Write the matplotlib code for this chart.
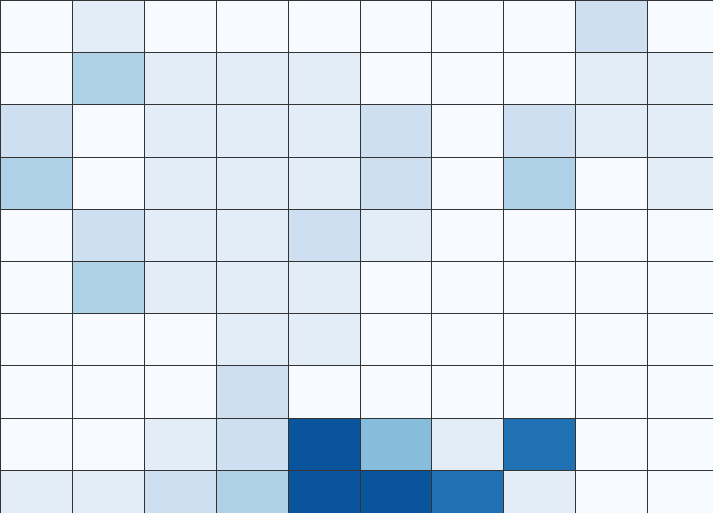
import numpy as np
import matplotlib
matplotlib.use('Agg')
import matplotlib.pyplot as plt

# counts per cell, top row first
row0 = [0, 1, 0, 0, 0, 0, 0, 0, 2, 0]
row1 = [0, 3, 1, 1, 1, 0, 0, 0, 1, 1]
row2 = [2, 0, 1, 1, 1, 2, 0, 2, 1, 1]
row3 = [3, 0, 1, 1, 1, 2, 0, 3, 0, 1]
row4 = [0, 2, 1, 1, 2, 1, 0, 0, 0, 0]
row5 = [0, 3, 1, 1, 1, 0, 0, 0, 0, 0]
row6 = [0, 0, 0, 1, 1, 0, 0, 0, 0, 0]
row7 = [0, 0, 0, 2, 0, 0, 0, 0, 0, 0]
row8 = [0, 0, 1, 2, 8, 4, 1, 7, 0, 0]
row9 = [1, 1, 2, 3, 8, 8, 7, 1, 0, 0]

data = np.array([row0, row1, row2, row3, row4, row5, row6, row7, row8, row9])

fig = plt.figure(figsize=(7.13, 5.13), dpi=100)
ax = fig.add_axes([0, 0, 1, 1])
ax.pcolormesh(data, cmap='Blues', vmin=0, vmax=9.3,
              edgecolors='#333333', linewidth=0.6)
# the grid runs a little past the right and bottom edges
ax.set_xlim(0, 713 / 71.9)
ax.set_ylim(513 / 52.2, 0)
ax.axis('off')

fig.savefig('out.png', dpi=100)
